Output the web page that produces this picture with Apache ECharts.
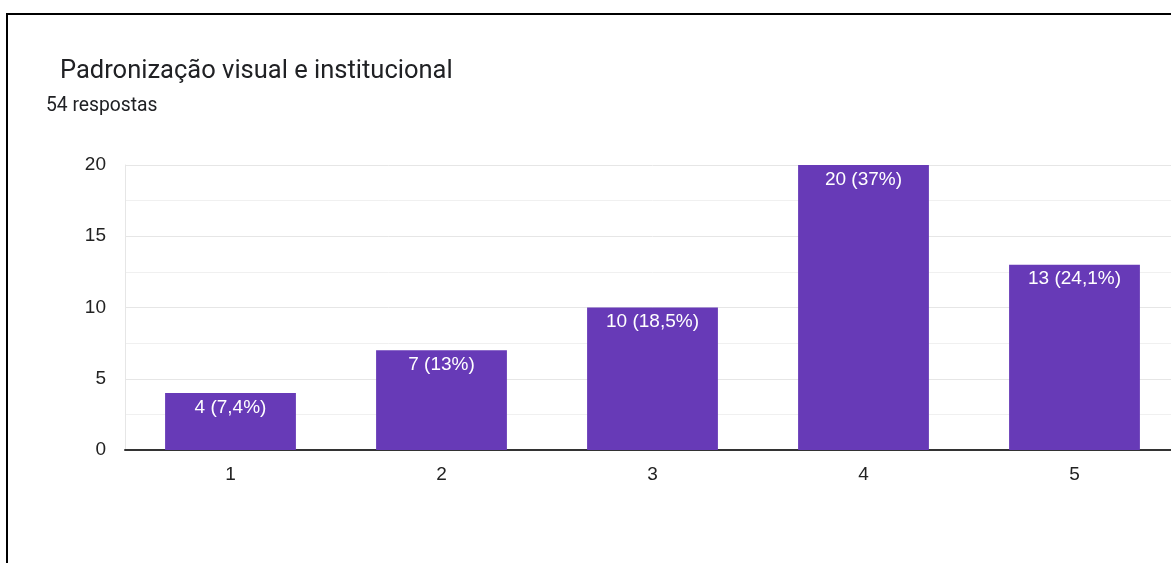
<!DOCTYPE html>
<html><head><meta charset="utf-8">
<script src="https://cdn.jsdelivr.net/npm/echarts@6/dist/echarts.min.js"></script>
<style>html,body{margin:0;padding:0;background:#fff;overflow:hidden;width:1171px;height:563px;}#c{width:1180px;height:563px;}</style>
</head><body><div id="c"></div>
<script>
const titleText = 'Padronização visual e institucional';
const subtitleText = '54 respostas';
const categories = ['1', '2', '3', '4', '5'];
const counts = [4, 7, 10, 20, 13];
const percents = ['7,4%', '13%', '18,5%', '37%', '24,1%'];

const chart = echarts.init(document.getElementById('c'), null, {renderer: 'canvas'});
chart.setOption({
  animation: false,
  backgroundColor: '#fff',
  title: [
    {text: titleText, left: 55, top: 54, textStyle: {fontFamily: 'Roboto', fontSize: 25.5, fontWeight: 'normal', color: '#202124'}},
    {text: subtitleText, left: 41, top: 92, textStyle: {fontFamily: 'Roboto', fontSize: 19.3, fontWeight: 'normal', color: '#202124'}}
  ],
  graphic: [{type: 'rect', shape: {x: 7, y: 14, width: 1250, height: 650}, style: {fill: 'none', stroke: '#000', lineWidth: 2}, silent: true}],
  grid: {left: 125, right: 0, top: 165, bottom: 113, containLabel: false},
  xAxis: {
    type: 'category', data: categories,
    axisLine: {show: true, lineStyle: {color: '#333', width: 2}},
    axisTick: {show: false},
    axisLabel: {fontFamily: 'Liberation Sans, Arial', fontSize: 19, color: '#222', margin: 15}
  },
  yAxis: {
    type: 'value', min: 0, max: 20, interval: 5,
    axisLine: {show: true, lineStyle: {color: '#e6e6e6', width: 1}},
    axisTick: {show: false},
    axisLabel: {fontFamily: 'Liberation Sans, Arial', fontSize: 19, color: '#222', margin: 19},
    splitLine: {lineStyle: {color: '#e6e6e6', width: 1}},
    minorTick: {show: false, splitNumber: 2},
    minorSplitLine: {show: true, lineStyle: {color: '#f0f0f0', width: 1}}
  },
  series: [{
    type: 'bar', data: counts, barWidth: '62%',
    itemStyle: {color: '#673ab7'},
    label: {
      show: true, position: 'insideTop', distance: 5,
      fontFamily: 'Liberation Sans, Arial', fontSize: 19, color: '#fff',
      formatter: p => p.value + ' (' + percents[p.dataIndex] + ')'
    }
  }]
});
</script></body></html>
